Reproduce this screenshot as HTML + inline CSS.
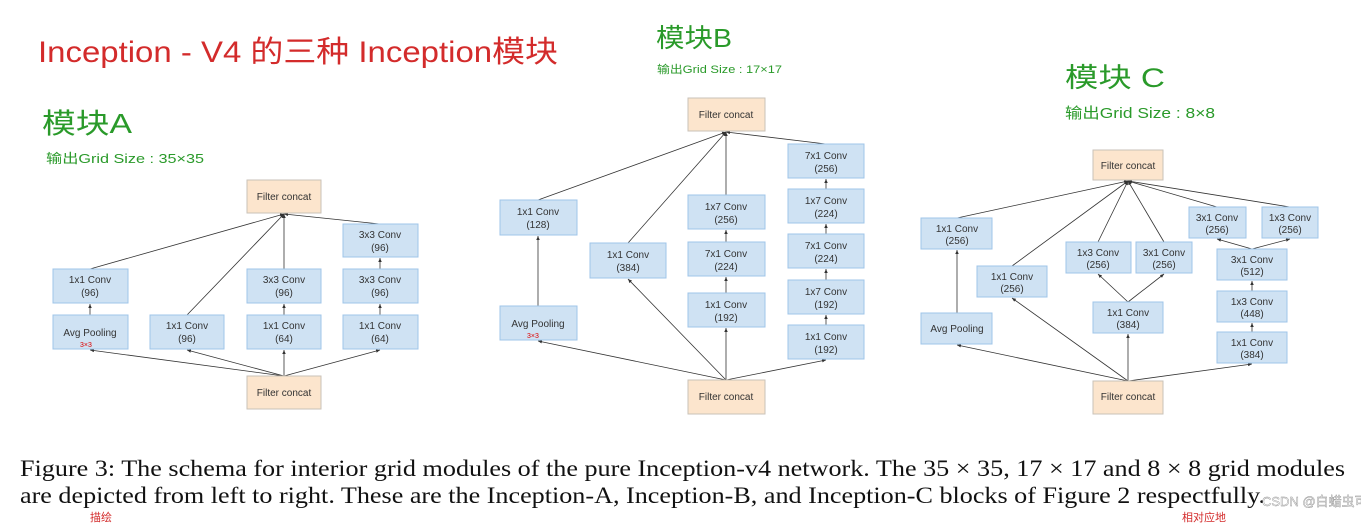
<!DOCTYPE html>
<html><head><meta charset="utf-8"><style>
html,body{margin:0;padding:0;background:#fff;width:1361px;height:523px;overflow:hidden}
svg{display:block}
.b{fill:#cfe2f3;stroke:#9fc5e8;stroke-width:1}
.c{fill:#fce5cd;stroke:#c9c2b8;stroke-width:1}
.t{font-family:"Liberation Sans",sans-serif;font-size:10px;fill:#333;text-anchor:middle}
.l{stroke:#333;stroke-width:0.8;fill:none;marker-end:url(#a)}
.hw{font-family:"Liberation Sans","Noto Sans CJK SC",sans-serif}
</style></head><body>
<svg width="1361" height="523" viewBox="0 0 1361 523">
<defs><marker id="a" markerWidth="6" markerHeight="6" refX="5" refY="3" orient="auto"><path d="M0,0.8 L5,3 L0,5.2z" fill="#333"/></marker></defs>

<!-- handwriting -->
<text x="38" y="62" class="hw" font-size="30" fill="#d32b2b" textLength="520" lengthAdjust="spacingAndGlyphs">Inception - V4 的三种 Inception模块</text>
<text x="42" y="133" class="hw" font-size="28" fill="#2a9a2a" textLength="90" lengthAdjust="spacingAndGlyphs">模块A</text>
<text x="46" y="163" class="hw" font-size="13" fill="#2a9a2a" textLength="158" lengthAdjust="spacingAndGlyphs">输出Grid Size : 35×35</text>
<text x="656" y="47" class="hw" font-size="26" fill="#2a9a2a" textLength="76" lengthAdjust="spacingAndGlyphs">模块B</text>
<text x="657" y="73" class="hw" font-size="11" fill="#2a9a2a" textLength="125" lengthAdjust="spacingAndGlyphs">输出Grid Size : 17×17</text>
<text x="1065" y="87" class="hw" font-size="27" fill="#2a9a2a" textLength="100" lengthAdjust="spacingAndGlyphs">模块 C</text>
<text x="1065" y="118" class="hw" font-size="15" fill="#2a9a2a" textLength="150" lengthAdjust="spacingAndGlyphs">输出Grid Size : 8×8</text>

<!-- Module A lines -->
<line class="l" x1="90" y1="269" x2="284" y2="214"/>
<line class="l" x1="187" y1="315" x2="284" y2="214"/>
<line class="l" x1="284" y1="269" x2="284" y2="214"/>
<line class="l" x1="380" y1="224" x2="284" y2="214"/>
<line class="l" x1="90" y1="315" x2="90" y2="304"/>
<line class="l" x1="284" y1="315" x2="284" y2="304"/>
<line class="l" x1="380" y1="315" x2="380" y2="304"/>
<line class="l" x1="380" y1="269" x2="380" y2="258"/>
<line class="l" x1="284" y1="376" x2="90" y2="350"/>
<line class="l" x1="284" y1="376" x2="187" y2="350"/>
<line class="l" x1="284" y1="376" x2="284" y2="350"/>
<line class="l" x1="284" y1="376" x2="380" y2="350"/>
<!-- Module A boxes -->
<rect class="c" x="247" y="180" width="74" height="33"/><text class="t" x="284" y="200">Filter concat</text>
<rect class="b" x="343" y="224" width="75" height="33"/><text class="t" x="380" y="238">3x3 Conv</text><text class="t" x="380" y="251">(96)</text>
<rect class="b" x="53" y="269" width="75" height="34"/><text class="t" x="90" y="283">1x1 Conv</text><text class="t" x="90" y="296">(96)</text>
<rect class="b" x="247" y="269" width="74" height="34"/><text class="t" x="284" y="283">3x3 Conv</text><text class="t" x="284" y="296">(96)</text>
<rect class="b" x="343" y="269" width="75" height="34"/><text class="t" x="380" y="283">3x3 Conv</text><text class="t" x="380" y="296">(96)</text>
<rect class="b" x="53" y="315" width="75" height="34"/><text class="t" x="90" y="336">Avg Pooling</text><text x="80" y="347" font-family="Liberation Sans" font-size="7" fill="#d00">3×3</text>
<rect class="b" x="150" y="315" width="74" height="34"/><text class="t" x="187" y="329">1x1 Conv</text><text class="t" x="187" y="342">(96)</text>
<rect class="b" x="247" y="315" width="74" height="34"/><text class="t" x="284" y="329">1x1 Conv</text><text class="t" x="284" y="342">(64)</text>
<rect class="b" x="343" y="315" width="75" height="34"/><text class="t" x="380" y="329">1x1 Conv</text><text class="t" x="380" y="342">(64)</text>
<rect class="c" x="247" y="376" width="74" height="33"/><text class="t" x="284" y="396">Filter concat</text>

<!-- Module B lines -->
<line class="l" x1="538" y1="200" x2="726" y2="132"/>
<line class="l" x1="628" y1="243" x2="726" y2="132"/>
<line class="l" x1="726" y1="195" x2="726" y2="132"/>
<line class="l" x1="826" y1="144" x2="726" y2="132"/>
<line class="l" x1="538" y1="306" x2="538" y2="236"/>
<line class="l" x1="726" y1="242" x2="726" y2="230"/>
<line class="l" x1="726" y1="293" x2="726" y2="277"/>
<line class="l" x1="826" y1="189" x2="826" y2="179"/>
<line class="l" x1="826" y1="234" x2="826" y2="224"/>
<line class="l" x1="826" y1="280" x2="826" y2="269"/>
<line class="l" x1="826" y1="325" x2="826" y2="315"/>
<line class="l" x1="726" y1="380" x2="538" y2="341"/>
<line class="l" x1="726" y1="380" x2="628" y2="279"/>
<line class="l" x1="726" y1="380" x2="726" y2="328"/>
<line class="l" x1="726" y1="380" x2="826" y2="360"/>
<!-- Module B boxes -->
<rect class="c" x="688" y="98" width="77" height="33"/><text class="t" x="726" y="118">Filter concat</text>
<rect class="b" x="500" y="200" width="77" height="35"/><text class="t" x="538" y="215">1x1 Conv</text><text class="t" x="538" y="228">(128)</text>
<rect class="b" x="500" y="306" width="77" height="34"/><text class="t" x="538" y="327">Avg Pooling</text><text x="527" y="338" font-family="Liberation Sans" font-size="7" fill="#d00">3×3</text>
<rect class="b" x="590" y="243" width="76" height="35"/><text class="t" x="628" y="258">1x1 Conv</text><text class="t" x="628" y="271">(384)</text>
<rect class="b" x="688" y="195" width="77" height="34"/><text class="t" x="726" y="210">1x7 Conv</text><text class="t" x="726" y="223">(256)</text>
<rect class="b" x="688" y="242" width="77" height="34"/><text class="t" x="726" y="257">7x1 Conv</text><text class="t" x="726" y="270">(224)</text>
<rect class="b" x="688" y="293" width="77" height="34"/><text class="t" x="726" y="308">1x1 Conv</text><text class="t" x="726" y="321">(192)</text>
<rect class="b" x="788" y="144" width="76" height="34"/><text class="t" x="826" y="159">7x1 Conv</text><text class="t" x="826" y="172">(256)</text>
<rect class="b" x="788" y="189" width="76" height="34"/><text class="t" x="826" y="204">1x7 Conv</text><text class="t" x="826" y="217">(224)</text>
<rect class="b" x="788" y="234" width="76" height="34"/><text class="t" x="826" y="249">7x1 Conv</text><text class="t" x="826" y="262">(224)</text>
<rect class="b" x="788" y="280" width="76" height="34"/><text class="t" x="826" y="295">1x7 Conv</text><text class="t" x="826" y="308">(192)</text>
<rect class="b" x="788" y="325" width="76" height="34"/><text class="t" x="826" y="340">1x1 Conv</text><text class="t" x="826" y="353">(192)</text>
<rect class="c" x="688" y="380" width="77" height="34"/><text class="t" x="726" y="400">Filter concat</text>

<!-- Module C lines -->
<line class="l" x1="957" y1="218" x2="1128" y2="181"/>
<line class="l" x1="1012" y1="266" x2="1128" y2="181"/>
<line class="l" x1="1098" y1="242" x2="1128" y2="181"/>
<line class="l" x1="1164" y1="242" x2="1128" y2="181"/>
<line class="l" x1="1217" y1="207" x2="1128" y2="181"/>
<line class="l" x1="1290" y1="207" x2="1128" y2="181"/>
<line class="l" x1="957" y1="313" x2="957" y2="250"/>
<line class="l" x1="1128" y1="302" x2="1098" y2="274"/>
<line class="l" x1="1128" y1="302" x2="1164" y2="274"/>
<line class="l" x1="1252" y1="249" x2="1217" y2="239"/>
<line class="l" x1="1252" y1="249" x2="1290" y2="239"/>
<line class="l" x1="1252" y1="291" x2="1252" y2="281"/>
<line class="l" x1="1252" y1="332" x2="1252" y2="323"/>
<line class="l" x1="1128" y1="381" x2="957" y2="345"/>
<line class="l" x1="1128" y1="381" x2="1012" y2="298"/>
<line class="l" x1="1128" y1="381" x2="1128" y2="334"/>
<line class="l" x1="1128" y1="381" x2="1252" y2="364"/>
<!-- Module C boxes -->
<rect class="c" x="1093" y="150" width="70" height="30"/><text class="t" x="1128" y="169">Filter concat</text>
<rect class="b" x="921" y="218" width="71" height="31"/><text class="t" x="957" y="232">1x1 Conv</text><text class="t" x="957" y="244">(256)</text>
<rect class="b" x="977" y="266" width="70" height="31"/><text class="t" x="1012" y="280">1x1 Conv</text><text class="t" x="1012" y="292">(256)</text>
<rect class="b" x="921" y="313" width="71" height="31"/><text class="t" x="957" y="332">Avg Pooling</text>
<rect class="b" x="1066" y="242" width="65" height="31"/><text class="t" x="1098" y="256">1x3 Conv</text><text class="t" x="1098" y="268">(256)</text>
<rect class="b" x="1136" y="242" width="56" height="31"/><text class="t" x="1164" y="256">3x1 Conv</text><text class="t" x="1164" y="268">(256)</text>
<rect class="b" x="1093" y="302" width="70" height="31"/><text class="t" x="1128" y="316">1x1 Conv</text><text class="t" x="1128" y="328">(384)</text>
<rect class="b" x="1189" y="207" width="57" height="31"/><text class="t" x="1217" y="221">3x1 Conv</text><text class="t" x="1217" y="233">(256)</text>
<rect class="b" x="1262" y="207" width="56" height="31"/><text class="t" x="1290" y="221">1x3 Conv</text><text class="t" x="1290" y="233">(256)</text>
<rect class="b" x="1217" y="249" width="70" height="31"/><text class="t" x="1252" y="263">3x1 Conv</text><text class="t" x="1252" y="275">(512)</text>
<rect class="b" x="1217" y="291" width="70" height="31"/><text class="t" x="1252" y="305">1x3 Conv</text><text class="t" x="1252" y="317">(448)</text>
<rect class="b" x="1217" y="332" width="70" height="31"/><text class="t" x="1252" y="346">1x1 Conv</text><text class="t" x="1252" y="358">(384)</text>
<rect class="c" x="1093" y="381" width="70" height="33"/><text class="t" x="1128" y="400">Filter concat</text>

<!-- caption -->
<text x="20" y="476" font-family="Liberation Serif,serif" font-size="23" fill="#111" textLength="1325" lengthAdjust="spacingAndGlyphs">Figure 3: The schema for interior grid modules of the pure Inception-v4 network. The 35 × 35, 17 × 17 and 8 × 8 grid modules</text>
<text x="20" y="503" font-family="Liberation Serif,serif" font-size="23" fill="#111" textLength="1245" lengthAdjust="spacingAndGlyphs">are depicted from left to right. These are the Inception-A, Inception-B, and Inception-C blocks of Figure 2 respectfully.</text>
<text x="90" y="521" class="hw" font-size="11" fill="#d32b2b">描绘</text>
<text x="1182" y="521" class="hw" font-size="11" fill="#d32b2b">相对应地</text>
<text x="1262" y="506" class="hw" font-size="13" fill="#fff" stroke="#888" stroke-width="0.4">CSDN @白蜡虫可</text>
</svg>
</body></html>
